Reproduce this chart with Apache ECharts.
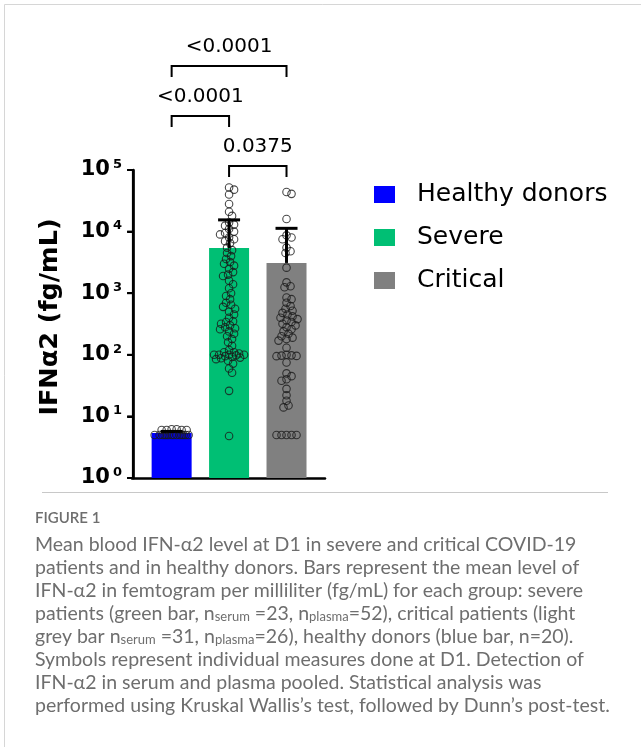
<!DOCTYPE html>
<html>
<head>
<meta charset="utf-8">
<script src="https://cdn.jsdelivr.net/npm/echarts@6.0.0/dist/echarts.min.js"></script>
<style>
html,body{margin:0;padding:0;background:#ffffff;}
#c{width:641px;height:747px;}
</style>
</head>
<body>
<div id="c"></div>
<script>
// ---------------- DATA ----------------
const categories = ['Healthy donors', 'Severe', 'Critical'];
const meanValues = [5.4, 5400, 3100];
const errorUpper = [5.7, 15500, 11300];
const yTickExponents = [0, 1, 2, 3, 4, 5];

const healthyValues = [5, 5, 5, 5, 5, 5, 5, 5, 5, 5, 5, 5, 5, 5, 6, 6, 6, 6, 6.2, 6.2];

const severeValues = [
  52000, 48000, 40000, 28000, 21000, 18000,
  14000, 13000, 12500, 11000, 10000, 9500, 9000, 8000, 7500, 7000, 6500,
  5500, 5000, 4500, 4000, 3600, 3200, 3000, 2800, 2500, 2200, 2000, 1900,
  1600, 1400, 1200, 1000, 900, 800, 700, 650, 600, 560, 500,
  450, 400, 350, 340, 320, 300, 280, 270, 260, 240, 220, 200,
  180, 160, 140, 120, 110, 110, 105,
  100, 100, 100, 100, 98, 95, 92, 90, 88, 85, 80,
  72, 60, 51, 26, 4.8
];

const criticalValues = [
  44000, 41000, 16000,
  8700, 8000, 7500, 5500, 4800, 4500,
  2600, 1500, 1300, 1250,
  850, 800, 700, 620, 560, 520, 480, 450, 420, 400,
  380, 360, 340, 320, 300, 280, 260, 240, 220, 200,
  190, 180, 170, 130,
  100, 98, 97, 96, 95,
  75, 50, 45, 40, 38,
  28, 22, 18, 15, 14,
  5, 5, 5, 5, 5
];

const comparisons = [
  { from: 0, to: 2, level: 2, label: '<0.0001' },
  { from: 0, to: 1, level: 1, label: '<0.0001' },
  { from: 1, to: 2, level: 0, label: '0.0375' }
];

const captionTitle = 'FIGURE 1';
const captionLines = [
  'Mean blood IFN-\u03b12 level at D1 in severe and critical COVID-19',
  'patients and in healthy donors. Bars represent the mean level of',
  'IFN-\u03b12 in femtogram per milliliter (fg/mL) for each group: severe',
  'patients (green bar, n{sub|serum} =23, n{sub|plasma}=52), critical patients (light',
  'grey bar n{sub|serum} =31, n{sub|plasma}=26), healthy donors (blue bar, n=20).',
  'Symbols represent individual measures done at D1. Detection of',
  'IFN-\u03b12 in serum and plasma pooled. Statistical analysis was',
  'performed using Kruskal Wallis\u2019s test, followed by Dunn\u2019s post-test.'
];

// ---------------- CHART ----------------
// category i sits at x = CAT_OFFSET + i on a value axis whose zero is the y-axis position
const CAT_OFFSET = 0.67;
const X_MIN = -0.02;
const catX = i => CAT_OFFSET + i;
const barColors = ['#0000ff', '#00bf74', '#808080'];
const chart = echarts.init(document.getElementById('c'), null, { renderer: 'canvas' });

const barSeries = categories.map((name, i) => ({
  type: 'bar',
  name: name,
  data: [[catX(i), meanValues[i]]],
  barWidth: 40,
  barGap: '-100%',
  itemStyle: { color: barColors[i] },
  z: 2
}));

const captionGraphics = [
  { type: 'line', shape: { x1: 4.5, y1: 4.5, x2: 641, y2: 4.5 }, style: { stroke: '#d6d6d6', lineWidth: 1 } },
  { type: 'line', shape: { x1: 4.5, y1: 4.5, x2: 4.5, y2: 747 }, style: { stroke: '#d6d6d6', lineWidth: 1 } },
  { type: 'line', shape: { x1: 42, y1: 492.5, x2: 608, y2: 492.5 }, style: { stroke: '#c8c8c8', lineWidth: 1 } },
  { type: 'text', style: { x: 35, y: 518, text: captionTitle, font: '600 15px Lato', fill: '#6e6e6e', verticalAlign: 'middle' } }
].concat(captionLines.map((t, i) => ({
  type: 'text',
  style: {
    x: 35, y: 545 + i * 22.9, text: t,
    font: '19.5px Lato', fill: '#6e6e6e', verticalAlign: 'middle',
    rich: { sub: { font: '13px Lato', fill: '#6e6e6e', padding: [7, 0, 0, 0] } }
  }
})));

const option = {
  animation: false,
  backgroundColor: '#ffffff',
  grid: { left: 132, top: 170, width: 193, height: 308 },
  legend: {
    data: categories,
    orient: 'vertical',
    left: 369,
    top: 177,
    icon: 'rect',
    itemWidth: 21,
    itemHeight: 17,
    itemGap: 18,
    textStyle: { fontFamily: 'DejaVu Sans', fontSize: 25, color: '#000', lineHeight: 25, padding: [0, 0, 0, 17] },
    selectedMode: false
  },
  xAxis: {
    type: 'value', min: X_MIN, max: 2 * CAT_OFFSET + 2,
    axisLine: { show: true, onZero: false, lineStyle: { color: '#000', width: 2.5 } },
    axisTick: { show: false }, axisLabel: { show: false }, splitLine: { show: false }
  },
  yAxis: {
    type: 'log', logBase: 10, min: 1, max: 100000,
    name: 'IFN\u03b12 (fg/mL)',
    nameLocation: 'middle',
    nameGap: 69,
    nameTextStyle: { fontFamily: 'DejaVu Sans', fontWeight: 'bold', fontSize: 25.5, color: '#000', padding: [0, 0, 0, 14] },
    axisLine: { show: true, onZero: true, lineStyle: { color: '#000', width: 2.5 } },
    axisTick: { show: true, length: 6, lineStyle: { color: '#000', width: 2 } },
    minorTick: { show: false },
    splitLine: { show: false },
    axisLabel: {
      margin: 10,
      formatter: function (v) {
        const e = Math.round(Math.log10(v));
        if (yTickExponents.indexOf(e) < 0) return '';
        return '{b|10}{s|' + e + '}';
      },
      rich: {
        b: { fontFamily: 'DejaVu Sans', fontWeight: 'bold', fontSize: 21, color: '#000' },
        s: { fontFamily: 'DejaVu Sans', fontWeight: 'bold', fontSize: 13, color: '#000', padding: [0, 0, 11, 3] }
      }
    }
  },
  graphic: captionGraphics,
  series: barSeries.concat([
    {
      id: 'pts', type: 'scatter', data: [],
      symbol: 'circle', symbolSize: 7.5,
      itemStyle: { color: 'rgba(0,0,0,0)', borderColor: '#1a1a1a', borderWidth: 1.1 },
      z: 3
    },
    {
      type: 'custom', id: 'err', z: 4, clip: false,
      data: meanValues.map((m, i) => [catX(i), m, errorUpper[i]]),
      renderItem: function (params, api) {
        const x = api.value(0);
        const p0 = api.coord([x, api.value(1)]);
        const p1 = api.coord([x, api.value(2)]);
        return {
          type: 'group',
          children: [
            { type: 'line', shape: { x1: p0[0], y1: p0[1], x2: p1[0], y2: p1[1] }, style: { stroke: '#000', lineWidth: 3 } },
            { type: 'line', shape: { x1: p1[0] - 11, y1: p1[1], x2: p1[0] + 11, y2: p1[1] }, style: { stroke: '#000', lineWidth: 3 } }
          ]
        };
      }
    },
    {
      // y-axis line and decade ticks traced through the axis scale, on its own top layer
      type: 'custom', id: 'yaxisline', zlevel: 1, z: 50, clip: false, silent: true,
      data: yTickExponents.map(e => [0, Math.pow(10, e)]),
      renderItem: function (params, api) {
        const p = api.coord([0, api.value(1)]);
        const children = [
          { type: 'line', shape: { x1: p[0] - 6, y1: p[1], x2: p[0], y2: p[1] }, style: { stroke: '#000', lineWidth: 2 } }
        ];
        if (params.dataIndex === 0) {
          const lo = api.coord([0, Math.pow(10, yTickExponents[0])]);
          const hi = api.coord([0, Math.pow(10, yTickExponents[yTickExponents.length - 1])]);
          children.push({ type: 'line', shape: { x1: lo[0], y1: lo[1] + 1.25, x2: hi[0], y2: hi[1] }, style: { stroke: '#000', lineWidth: 2.5 } });
        }
        return { type: 'group', children: children };
      }
    },
    {
      type: 'custom', id: 'brackets', z: 5, clip: false,
      data: comparisons.map(c => [catX(c.from), catX(c.to), c.level]),
      renderItem: function (params, api) {
        const c = comparisons[params.dataIndex];
        const a = api.coord([catX(c.from), 100000]);
        const b = api.coord([catX(c.to), 100000]);
        const y = a[1] - 4 - c.level * 50;
        const leg = 11;
        return {
          type: 'group',
          children: [
            { type: 'polyline', shape: { points: [[a[0], y + leg], [a[0], y], [b[0], y], [b[0], y + leg]] }, style: { stroke: '#000', lineWidth: 2, fill: null } },
            { type: 'text', style: { x: (a[0] + b[0]) / 2, y: y - 19, text: c.label, font: '20px DejaVu Sans', fill: '#000', align: 'center', verticalAlign: 'middle' } }
          ]
        };
      }
    }
  ])
};

chart.setOption(option);

// beeswarm placement of individual measures
function swarm(values, ci) {
  const origin = chart.convertToPixel({ gridIndex: 0 }, [catX(ci), 1]);
  const next = chart.convertToPixel({ gridIndex: 0 }, [catX(ci) + 1, 1]);
  const pxPerUnit = next[0] - origin[0];
  const placed = [];
  const out = [];
  const order = values.map((v, i) => i).sort((p, q) => values[q] - values[p]);
  const minD = 5, step = 1, maxOff = 17;
  order.forEach(idx => {
    const py = chart.convertToPixel({ gridIndex: 0 }, [catX(ci), values[idx]])[1];
    let best = 0, bestScore = -1;
    for (let k = 0; k <= maxOff * 2; k++) {
      const off = (k % 2 === 1 ? 1 : -1) * Math.ceil(k / 2) * step;
      let score = Infinity;
      for (const p of placed) {
        const d = Math.hypot(p[0] - off, p[1] - py);
        if (d < score) score = d;
      }
      if (score >= minD) { best = off; bestScore = score; break; }
      if (score > bestScore) { bestScore = score; best = off; }
    }
    placed.push([best, py]);
    out.push([catX(ci) + best / pxPerUnit, values[idx]]);
  });
  return out;
}

const points = [].concat(
  swarm(healthyValues, 0),
  swarm(severeValues, 1),
  swarm(criticalValues, 2)
);
chart.setOption({ series: [{ id: 'pts', data: points }] });
</script>
</body>
</html>
